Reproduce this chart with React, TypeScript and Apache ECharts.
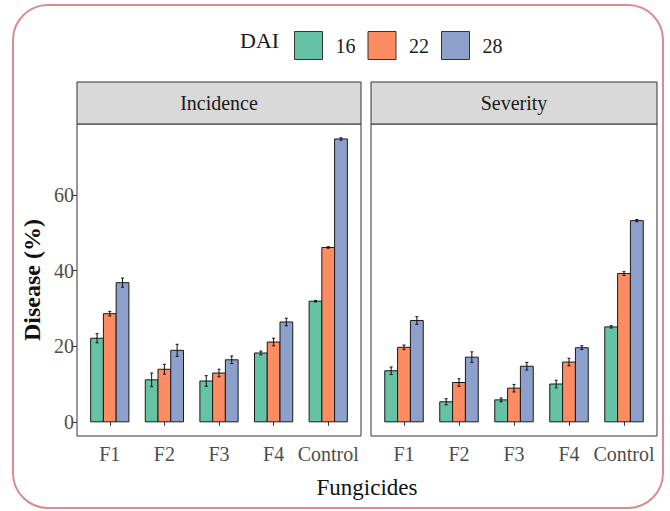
import React, { useEffect, useRef } from "react";
import * as echarts from "echarts";

const categories = ["F1", "F2", "F3", "F4", "Control"];
const daiLevels = ["16", "22", "28"];
const colors = ["#66c2a5", "#fc8d62", "#8da0cb"];

const incidence16 = [22.1, 11.1, 10.8, 18.2, 31.9];
const incidence22 = [28.6, 13.9, 12.9, 21.1, 46.1];
const incidence28 = [36.8, 18.9, 16.4, 26.4, 74.8];
const incErr16 = [1.2, 1.8, 1.4, 0.5, 0.2];
const incErr22 = [0.6, 1.3, 1.0, 1.0, 0.2];
const incErr28 = [1.2, 1.6, 1.0, 1.0, 0.3];

const severity16 = [13.5, 5.3, 5.8, 10.0, 25.1];
const severity22 = [19.7, 10.4, 8.9, 15.8, 39.2];
const severity28 = [26.8, 17.1, 14.7, 19.6, 53.2];
const sevErr16 = [1.0, 0.8, 0.5, 1.0, 0.3];
const sevErr22 = [0.6, 1.0, 1.0, 1.0, 0.5];
const sevErr28 = [1.0, 1.4, 1.0, 0.5, 0.3];

const yTicks = [0, 20, 40, 60];
const panels = ["Incidence", "Severity"];

const SERIF = "'Times New Roman', 'Liberation Serif', Times, serif";
const BAR_W = 0.7 / 3;

export default function App() {
  const ref = useRef<HTMLDivElement>(null);
  useEffect(() => {
    document.body.style.margin = "0";
    const chart = echarts.init(ref.current!, null, { renderer: "svg" });

    const panelData = [
      { vals: [incidence16, incidence22, incidence28], errs: [incErr16, incErr22, incErr28] },
      { vals: [severity16, severity22, severity28], errs: [sevErr16, sevErr22, sevErr28] },
    ];

    const grids = [
      { left: 77, top: 124, width: 284, height: 312 },
      { left: 371, top: 124, width: 286, height: 312 },
    ];

    const series: any[] = [];
    panelData.forEach((pd, pi) => {
      daiLevels.forEach((lvl, li) => {
        const offset = (li - 1) * BAR_W;
        const color = colors[li];
        series.push({
          type: "custom",
          name: lvl,
          xAxisIndex: pi,
          yAxisIndex: pi,
          itemStyle: { color },
          encode: { x: 0, y: 1 },
          data: pd.vals[li].map((v, ci) => [ci + 1, v, pd.errs[li][ci]]),
          renderItem: (params: any, api: any) => {
            const x = api.value(0) + offset;
            const v = api.value(1);
            const e = api.value(2);
            const top = api.coord([x, v]);
            const base = api.coord([x, 0]);
            const lo = api.coord([x, v - e]);
            const hi = api.coord([x, v + e]);
            const w = api.size([BAR_W, 0])[0];
            return {
              type: "group",
              children: [
                {
                  type: "rect",
                  shape: { x: top[0] - w / 2, y: top[1], width: w, height: base[1] - top[1] },
                  style: { fill: color, stroke: "#1a1a1a", lineWidth: 1 },
                },
                {
                  type: "line",
                  shape: { x1: top[0], y1: lo[1], x2: top[0], y2: hi[1] },
                  style: { stroke: "#111", lineWidth: 1 },
                },
                {
                  type: "line",
                  shape: { x1: top[0] - 1.5, y1: lo[1], x2: top[0] + 1.5, y2: lo[1] },
                  style: { stroke: "#111", lineWidth: 1 },
                },
                {
                  type: "line",
                  shape: { x1: top[0] - 1.5, y1: hi[1], x2: top[0] + 1.5, y2: hi[1] },
                  style: { stroke: "#111", lineWidth: 1 },
                },
              ],
            };
          },
        });
      });
    });

    const xAxes = grids.map((_, i) => ({
      type: "value",
      gridIndex: i,
      min: 0.4,
      max: 5.6,
      splitLine: { show: false },
      axisLine: { show: false },
      axisTick: {
        show: true,
        customValues: [1, 2, 3, 4, 5],
        length: 4,
        lineStyle: { color: "#333", width: 1 },
      },
      axisLabel: {
        customValues: [1, 2, 3, 4, 5],
        formatter: (v: number) => categories[Math.round(v) - 1] ?? "",
        color: "#4d4d4d",
        fontSize: 20,
        fontFamily: SERIF,
        margin: 8,
      },
    }));

    const yAxes = grids.map((_, i) => ({
      type: "value",
      gridIndex: i,
      min: -3.75,
      max: 78.75,
      splitLine: { show: false },
      axisLine: { show: false },
      axisTick: {
        show: i === 0,
        customValues: yTicks,
        length: 4,
        lineStyle: { color: "#333", width: 1 },
      },
      axisLabel: {
        show: i === 0,
        customValues: yTicks,
        color: "#4d4d4d",
        fontSize: 20,
        fontFamily: SERIF,
        margin: 3,
      },
    }));

    const graphic: any[] = [
      {
        type: "rect",
        shape: { x: 13, y: 5, width: 650, height: 503, r: 35 },
        style: { fill: "none", stroke: "#d98c8c", lineWidth: 2 },
        silent: true,
      },
      {
        type: "text",
        x: 240,
        y: 40,
        style: { text: "DAI", fontSize: 22, fontFamily: SERIF, fill: "#1a1a1a", align: "left", verticalAlign: "middle" },
      },
      {
        type: "text",
        x: 32,
        y: 280,
        rotation: Math.PI / 2,
        style: {
          text: "Disease (%)",
          fontSize: 24,
          fontWeight: "bold",
          fontFamily: SERIF,
          fill: "#111",
          align: "center",
          verticalAlign: "middle",
        },
      },
      {
        type: "text",
        x: 367,
        y: 487,
        style: { text: "Fungicides", fontSize: 23, fontFamily: SERIF, fill: "#111", align: "center", verticalAlign: "middle" },
      },
    ];
    grids.forEach((g, i) => {
      graphic.push({
        type: "rect",
        shape: { x: g.left, y: 82, width: g.width, height: 42 },
        style: { fill: "#d9d9d9", stroke: "#333", lineWidth: 1 },
      });
      graphic.push({
        type: "text",
        x: g.left + g.width / 2,
        y: 103,
        style: { text: panels[i], fontSize: 20, fontFamily: SERIF, fill: "#1a1a1a", align: "center", verticalAlign: "middle" },
      });
    });

    chart.setOption({
      animation: false,
      backgroundColor: "#fff",
      legend: {
        left: 289,
        top: 26,
        itemWidth: 28,
        itemHeight: 28,
        itemGap: 12,
        icon: "rect",
        data: daiLevels.map((l, i) => ({
          name: l,
          itemStyle: { color: colors[i], borderColor: "#333", borderWidth: 1 },
        })),
        textStyle: { fontSize: 20, fontFamily: SERIF, color: "#1a1a1a", padding: [0, 0, 0, 8] },
        selectedMode: false,
      },
      grid: grids.map((g) => ({ ...g, show: true, borderColor: "#333", borderWidth: 1, backgroundColor: "#fff" })),
      xAxis: xAxes,
      yAxis: yAxes,
      series,
      graphic,
    });
    return () => chart.dispose();
  }, []);
  return <div ref={ref} style={{ width: 670, height: 511 }} />;
}
